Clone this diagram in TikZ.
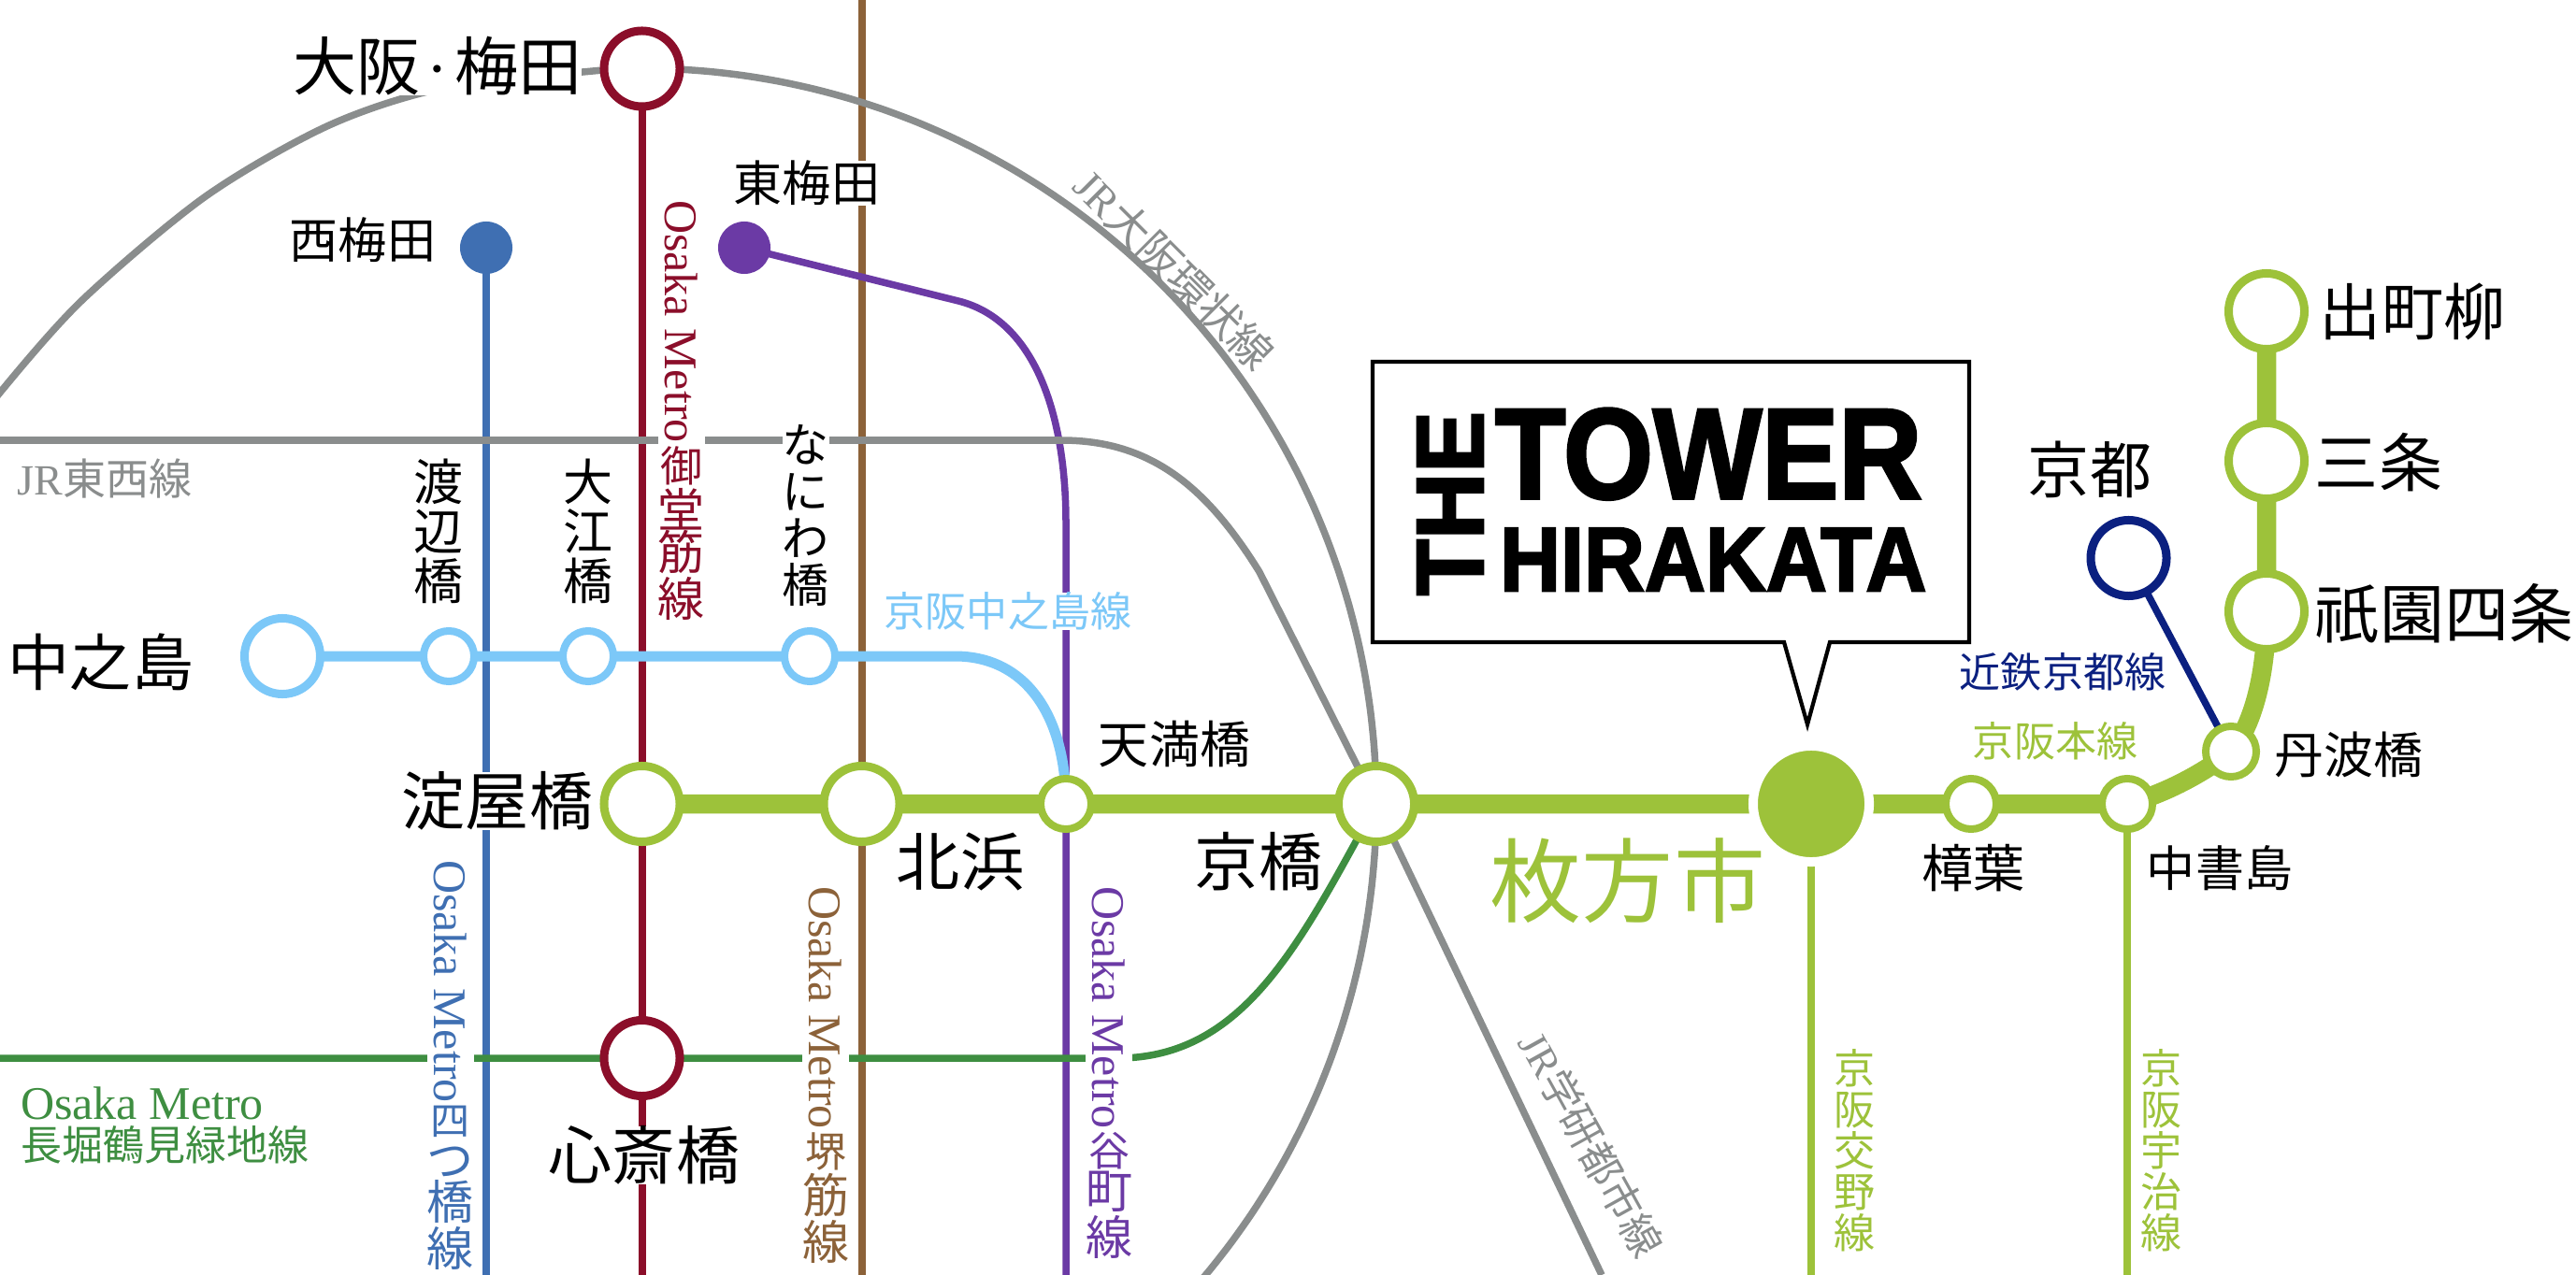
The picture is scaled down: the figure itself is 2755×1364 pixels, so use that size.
\documentclass[tikz,border=0pt]{standalone}
\usepackage{fontspec}
\usetikzlibrary{backgrounds}
\setmainfont{Liberation Serif}
\newfontfamily\cjkm{Noto Sans CJK JP}
\newfontfamily\lam{Liberation Serif}
\newfontfamily\logof[FakeBold=2.5]{Liberation Sans Bold}
\newcommand\px[2][120]{\dimen0=\dimexpr 0.28453pt*#2\relax\fontsize{\the\dimen0}{\the\dimexpr\dimen0*#1/100\relax}\selectfont}
\newcommand\cj[1]{{\cjkm #1}}
\newcommand\la[1]{{\lam #1}}
\newcommand\osk{\rotatebox{-90}{\la{Osaka Metro}}}
\definecolor{kgreen}{HTML}{9DC23A}
\definecolor{mido}{HTML}{8B0E2A}
\definecolor{sakai}{HTML}{8C6239}
\definecolor{yotsu}{HTML}{3F6FB2}
\definecolor{tani}{HTML}{6B3AA5}
\definecolor{jrgray}{HTML}{8A8D8D}
\definecolor{nakano}{HTML}{7CC8F8}
\definecolor{naga}{HTML}{3E8E41}
\definecolor{kint}{HTML}{0B2080}
\tikzset{
  stbig/.style={circle,draw=#1,fill=white,line width=.9mm,minimum size=8.1mm,inner sep=0pt,outer sep=0pt},
  stsmall/.style={circle,draw=#1,fill=white,line width=.8mm,minimum size=5.4mm,inner sep=0pt,outer sep=0pt},
  stdot/.style={circle,fill=#1,minimum size=5.6mm,inner sep=0pt,outer sep=0pt},
  rail/.style={draw=#1,line width=.75mm},
  thick rail/.style={draw=#1,line width=2.05mm},
  lab/.style={inner sep=0pt,outer sep=0pt,align=center,text=black},
  wipe/.style={fill=white},
  callout/.style={draw=black,line width=.42mm,fill=white,line join=miter}
}
\begin{document}
\begin{tikzpicture}[x=0.01cm,y=-0.01cm]
\useasboundingbox (0,0) rectangle (2755,1364);
% stations
\node[stbig=mido] (umeda) at (686.5,73.5) {};
\node[stdot=yotsu] (nishi) at (520,265) {};
\node[stdot=tani] (higashi) at (796,265) {};
\node[stbig=nakano] (nakanoshima) at (302,702) {};
\node[stsmall=nakano] (watanabe) at (480,702) {};
\node[stsmall=nakano] (oebashi) at (629,702) {};
\node[stsmall=nakano] (naniwa) at (866,702) {};
\node[stbig=kgreen] (yodo) at (686.5,860) {};
\node[stbig=kgreen] (kita) at (921.5,860) {};
\node[stsmall=kgreen] (tenma) at (1140,860) {};
\node[stbig=kgreen] (kyobashi) at (1472,860) {};
\node[circle,draw=white,fill=kgreen,line width=1mm,minimum size=12.4mm,inner sep=0pt,outer sep=0pt] (hirakata) at (1937,860) {};
\node[stsmall=kgreen] (kuzuha) at (2108,860) {};
\node[stsmall=kgreen] (chusho) at (2275,860) {};
\node[stsmall=kgreen] (tanba) at (2386,804) {};
\node[stbig=kgreen] (gion) at (2424,654) {};
\node[stbig=kgreen] (sanjo) at (2424,493) {};
\node[stbig=kgreen] (demachi) at (2424,333) {};
\node[stbig=kint] (kyoto) at (2276.5,597) {};
\node[stbig=mido] (shinsai) at (686.5,1132) {};
% free ends
\coordinate (midoB) at (686.5,1364);
\coordinate (sakaiT) at (922,0);
\coordinate (sakaiB) at (922,1364);
\coordinate (yotsuB) at (520,1364);
\coordinate (taniB) at (1140,1364);
\coordinate (tozaiL) at (0,471);
\coordinate (gakkenB) at (1713,1364);
\coordinate (nagaL) at (0,1132);
\coordinate (katanoB) at (1937,1364);
\coordinate (ujiB) at (2275,1364);
% lines
\begin{pgfonlayer}{background}
\clip (0,0) rectangle (2755,1364);
\path[rail=sakai] (sakaiT) -- (sakaiB);
\path[rail=yotsu] (nishi.center) -- (yotsuB);
\path[rail=mido,line width=.8mm] (umeda.center) -- (midoB);
\path[rail=tani] (higashi.center) -- (1025,322) .. controls (1105,342) and (1140,440) .. (1140,560) -- (taniB);
\path[rail=naga] (nagaL) -- (1195,1132) .. controls (1330,1132) and (1390,1010) .. (kyobashi.center);
\path[rail=jrgray] plot[smooth] coordinates {(-20,452) (0,420) (88,321) (220,210) (352,134) (475,94) (634,76) (686.5,73.5)};
\path[rail=jrgray] plot[smooth,domain=90:-45,samples=50] ({685+787*cos(\x)},{860-787*sin(\x)});
\path[rail=jrgray] (tozaiL) -- (1135,471) .. controls (1230,471) and (1290,520) .. (1347,612) -- (kyobashi.center) -- (gakkenB);
\path[draw=nakano,line width=1.1mm] (nakanoshima.center) -- (watanabe.center) -- (oebashi.center) -- (naniwa.center) -- (1021,702) .. controls (1100,702) and (1140,770) .. (tenma.center);
\path[rail=kint] (kyoto.center) -- (tanba.center);
\path[rail=kgreen] (hirakata.center) -- (katanoB);
\path[rail=kgreen] (chusho.center) -- (ujiB);
\path[thick rail=kgreen] (yodo.center) -- (kita.center) -- (tenma.center) -- (kyobashi.center) -- (hirakata.center) -- (kuzuha.center) -- (chusho.center) .. controls (2330,845) and (2372,815) .. (tanba.center) .. controls (2410,775) and (2424,720) .. (gion.center) -- (sanjo.center) -- (demachi.center);
\end{pgfonlayer}
% callout
\path[callout] (1468,387) -- (2106,387) -- (2106,687) -- (1957,687) -- (1933,775) -- (1908,687) -- (1468,687) -- cycle;
\node[inner sep=0pt,outer sep=0pt,anchor=north west] (tower) at (1599,437) {\resizebox{4.56cm}{.96cm}{\logof TOWER}};
\node[inner sep=0pt,outer sep=0pt,anchor=north west] (hira) at (1604,565) {\resizebox{4.56cm}{.67cm}{\logof HIRAKATA}};
\node[inner sep=0pt,outer sep=0pt,anchor=north west] (the) at (1516,440) {\rotatebox{90}{\resizebox{1.97cm}{.7cm}{\logof THE}}};
% station labels
\node[lab,wipe,font={\px{68}}] (lUmeda) at (468,71) {\cj{大阪}\hspace{.1em}\la{·}\hspace{.1em}\cj{梅田}};
\node[lab,font={\px{52}}] (lNishi) at (388,257) {\cj{西梅田}};
\node[lab,wipe,font={\px{52}}] (lHigashi) at (863,196) {\cj{東梅田}};
\node[lab,font={\px[100]{53}}] (lWata) at (469,568) {\cj{渡}\\\cj{辺}\\\cj{橋}};
\node[lab,font={\px[100]{53}}] (lOe) at (629,568) {\cj{大}\\\cj{江}\\\cj{橋}};
\node[lab,wipe,font={\px[100]{50}}] (lNani) at (862,551) {\cj{な}\\\cj{に}\\\cj{わ}\\\cj{橋}};
\node[lab,font={\px{66}}] (lNaka) at (108,708) {\cj{中之島}};
\node[lab,wipe,font={\px{68}}] (lYodo) at (532,857) {\cj{淀屋橋}};
\node[lab,font={\px{68}}] (lKita) at (1027,922) {\cj{北浜}};
\node[lab,font={\px{68}}] (lKyob) at (1346,922) {\cj{京橋}};
\node[lab,font={\px{54}}] (lTenma) at (1256,796) {\cj{天満橋}};
\node[lab,wipe,font={\px{68}}] (lShin) at (689,1236) {\cj{心斎橋}};
\node[lab,font={\px{98}},text=kgreen] (lHira) at (1741,942) {\cj{枚方市}};
\node[lab,font={\px{55}}] (lKuzu) at (2110,929) {\cj{樟葉}};
\node[lab,font={\px{52}}] (lChu) at (2374,929) {\cj{中書島}};
\node[lab,font={\px{53}}] (lTan) at (2512,807) {\cj{丹波橋}};
\node[lab,font={\px{69}}] (lGion) at (2614,656) {\cj{祇園四条}};
\node[lab,font={\px{68}}] (lSan) at (2544,495) {\cj{三条}};
\node[lab,font={\px{66}}] (lDema) at (2580,333) {\cj{出町柳}};
\node[lab,font={\px{66}}] (lKyoto) at (2235,502) {\cj{京都}};
% line labels
\node[lab,font={\px{46}},text=jrgray] (tJRt) at (112,512) {\la{JR}\cj{東西線}};
\node[lab,font={\px{46}},text=jrgray,rotate=-45] (tJRk) at (1256,288) {\la{JR}\cj{大阪環状線}};
\node[lab,wipe,font={\px{44}},text=nakano] (tNaka) at (1078,654) {\cj{京阪中之島線}};
\node[lab,wipe,font={\px[90]{50}},text=mido,anchor=north] (tMido) at (729,214) {\osk\\\px[92]{45}\cj{御}\\\cj{堂}\\\cj{筋}\\\cj{線}};
\node[lab,wipe,font={\px[90]{50}},text=yotsu,anchor=north] (tYotsu) at (482,920) {\osk\\\px[94]{42}\cj{四}\\\cj{つ}\\\cj{橋}\\\cj{線}};
\node[lab,wipe,font={\px[90]{50}},text=sakai,anchor=north] (tSakai) at (883,948) {\osk\\\px[96]{44}\cj{堺}\\\cj{筋}\\\cj{線}};
\node[lab,wipe,font={\px[90]{50}},text=tani,anchor=north] (tTani) at (1186,948) {\osk\\\px[96]{44}\cj{谷}\\\cj{町}\\\cj{線}};
\node[lab,font={\px{50}},text=naga,anchor=west] (tNaga1) at (22,1180) {\la{Osaka Metro}};
\node[lab,font={\px{44}},text=naga,anchor=west] (tNaga2) at (22,1225) {\cj{長堀鶴見緑地線}};
\node[lab,font={\px{44}},text=jrgray,rotate=-61] (tGak) at (1702,1224) {\la{JR}\cj{学研都市線}};
\node[lab,font={\px[100]{44}},text=kgreen] (tKata) at (1983,1231) {\cj{京}\\\cj{阪}\\\cj{交}\\\cj{野}\\\cj{線}};
\node[lab,font={\px[100]{44}},text=kgreen] (tUji) at (2311,1231) {\cj{京}\\\cj{阪}\\\cj{宇}\\\cj{治}\\\cj{線}};
\node[lab,font={\px{44}},text=kgreen] (tHon) at (2198,793) {\cj{京阪本線}};
\node[lab,font={\px{44}},text=kint] (tKin) at (2206,719) {\cj{近鉄京都線}};
\end{tikzpicture}
\end{document}
